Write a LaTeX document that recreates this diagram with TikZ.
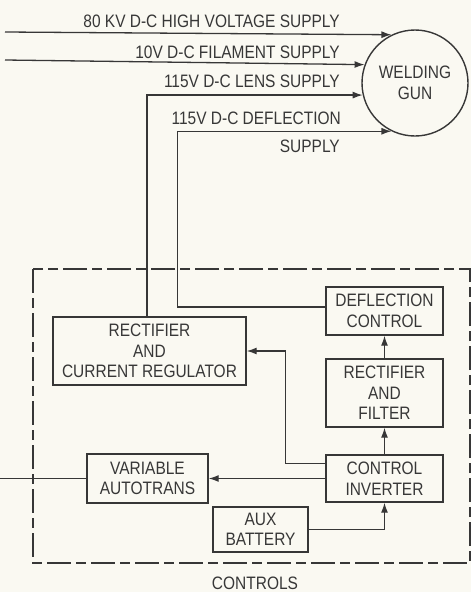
\documentclass[tikz,border=0pt]{standalone}
\usepackage{fontspec}
\setmainfont[FakeStretch=0.86]{Liberation Sans}
\usetikzlibrary{arrows.meta}
\definecolor{ink}{RGB}{55,55,55}
\definecolor{paper}{RGB}{250,249,242}
\begin{document}
\begin{tikzpicture}[x=1pt,y=-1pt,
  every node/.style={text=ink,font=\fontsize{18}{20.5}\selectfont},
  blk/.style={draw=ink,line width=1.4pt,rectangle,inner sep=0pt,align=center},
  arr/.style={draw=ink,line width=1.3pt,-{Latex[length=10pt,width=7pt]}},
  ln/.style={draw=ink,line width=1.3pt},
  lab/.style={anchor=east,inner sep=0pt},
  dashbox/.style={draw=ink,line width=1.3pt,dash pattern=on 24pt off 5pt on 10pt off 5pt}]
\fill[paper] (0,0) rectangle (471,592);
\useasboundingbox (0,0) rectangle (471,592);

% welding gun
\node[draw=ink,line width=1.4pt,circle,minimum size=106pt,inner sep=0pt,align=center] (gun) at (415,83) {WELDING\\GUN};

% controls frame
\draw[dashbox] (33,269) rectangle (470,563);
\node (ctl) at (255,583) {CONTROLS};

% blocks
\node[blk,minimum width=117pt,minimum height=48pt] (defl) at (384.5,311) {DEFLECTION\\CONTROL};
\node[blk,minimum width=117pt,minimum height=68pt] (filt) at (384.5,393) {RECTIFIER\\AND\\FILTER};
\node[blk,minimum width=193pt,minimum height=68pt] (rcr) at (149.5,351) {RECTIFIER\\AND\\CURRENT REGULATOR};
\node[blk,minimum width=117pt,minimum height=47pt] (inv) at (384.5,478.5) {CONTROL\\INVERTER};
\node[blk,minimum width=121pt,minimum height=49pt] (vat) at (147.5,478.5) {VARIABLE\\AUTOTRANS};
\node[blk,minimum width=95pt,minimum height=45pt] (aux) at (260.5,529.5) {AUX\\BATTERY};

% supply labels
\node[lab] (l1) at (340,21) {80 KV D-C HIGH VOLTAGE SUPPLY};
\node[lab] (l2) at (340,52) {10V D-C FILAMENT SUPPLY};
\node[lab] (l3) at (340,81) {115V D-C LENS SUPPLY};
\node[lab] (l4) at (341,118) {115V D-C DEFLECTION};
\node[lab] (l5) at (340,146) {SUPPLY};

% supply lines
\coordinate (hv) at (5,32);
\coordinate (fil) at (5,60);
\coordinate (acin) at (0,478.5);
\draw[arr] (hv) -- (gun.116);
\draw[arr] (fil) -- (gun.160);
\draw[arr] ([xshift=-2.5pt]rcr.north) |- (gun.193);
\draw[arr] ([yshift=4pt]defl.west) -- ++(-148,0) |- (gun.244);

% internal connections
\draw[arr] (filt.north) -- (defl.south);
\draw[arr] (inv.north) -- (filt.south);
\draw[arr] ([yshift=15pt]inv.west) -- ++(-40,0) |- (rcr.east);
\draw[arr] (inv.west) -- (vat.east);
\draw[arr] (aux.east) -| (inv.south);
\draw[ln] (acin) -- (vat.west);
\end{tikzpicture}
\end{document}
